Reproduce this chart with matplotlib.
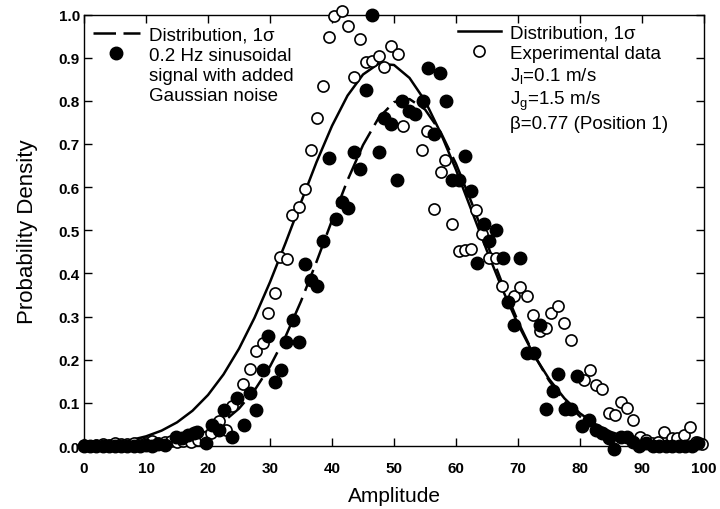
import matplotlib
matplotlib.use("Agg")
import matplotlib.pyplot as plt
from matplotlib.lines import Line2D
import numpy as np

plt.rcParams['font.family'] = ['Liberation Sans', 'DejaVu Sans']
plt.rcParams['mathtext.fontset'] = 'custom'
plt.rcParams['mathtext.rm'] = 'Liberation Sans'
plt.rcParams['mathtext.it'] = 'Liberation Sans:italic'

curve_x = np.linspace(0, 100, 41)
exp_fit = [0.0026, 0.0047, 0.0081, 0.0137, 0.0224, 0.0356, 0.0548, 0.0818, 0.1183, 0.166,
           0.2256, 0.2973, 0.380, 0.4705, 0.565, 0.658, 0.742, 0.812, 0.861, 0.886,
           0.883, 0.853, 0.800, 0.726, 0.640, 0.546, 0.452, 0.3626, 0.282, 0.2127,
           0.1554, 0.1102, 0.0757, 0.0504, 0.0326, 0.0204, 0.0124, 0.0073, 0.0042, 0.0023, 0.0012]
sine_fit = [0.0002, 0.0004, 0.0009, 0.0018, 0.0036, 0.0067, 0.0121, 0.0210, 0.0350, 0.0563,
            0.0869, 0.1291, 0.1845, 0.2537, 0.3356, 0.427, 0.523, 0.616, 0.6975, 0.760,
            0.797, 0.804, 0.780, 0.728, 0.654, 0.5645, 0.469, 0.375, 0.2884, 0.2133,
            0.1518, 0.1039, 0.0684, 0.0433, 0.0264, 0.0155, 0.0087, 0.0047, 0.0025, 0.0012, 0.0006]

# 0.2 Hz sinusoidal signal with gaussian noise (filled circles)
sine_x = [0, 1, 2, 3, 4, 5, 6, 7, 8, 9, 10, 11, 12, 13,
          14.8, 15.8, 16.8, 17.7, 18.3, 19.6, 20.7, 21.8, 22.6, 23.8,
          24.7, 25.8, 26.7, 27.7, 28.8, 29.7, 30.8, 31.7, 32.6, 33.7,
          34.7, 35.6, 36.6, 37.6, 38.5, 39.5, 40.6, 41.6, 42.6, 43.5,
          44.5, 45.4, 46.5, 47.6, 48.4, 49.5, 50.5, 51.3, 52.4, 53.4,
          54.6, 55.5, 56.4, 57.4, 58.4, 59.4, 60.5, 61.5, 62.4, 63.4,
          64.5, 65.4, 66.4, 67.5, 68.4, 69.4, 70.4, 71.5, 72.6, 73.5,
          74.5, 75.6, 76.5, 77.6, 78.6, 79.5, 80.4, 81.5, 82.5, 83.6,
          84.6, 85.5, 86.6, 87.6, 88.5, 89.5, 90.6, 91.7, 92.7, 93.8,
          94.9, 96, 97, 98.1, 99.1]
sine_y = [0, 0, 0, 0, 0, 0, 0, 0, 0, 0, 0.003, 0, 0.004, 0.002,
          0.022, 0.018, 0.026, 0.030, 0.033, 0.006, 0.049, 0.037, 0.084, 0.020,
          0.111, 0.048, 0.124, 0.084, 0.177, 0.254, 0.148, 0.177, 0.241, 0.293,
          0.241, 0.422, 0.385, 0.371, 0.474, 0.668, 0.527, 0.566, 0.552, 0.682,
          0.642, 0.824, 1.0, 0.682, 0.760, 0.746, 0.616, 0.799, 0.776, 0.769,
          0.799, 0.876, 0.723, 0.865, 0.799, 0.616, 0.616, 0.672, 0.590, 0.424,
          0.515, 0.476, 0.500, 0.436, 0.333, 0.280, 0.436, 0.216, 0.216, 0.280,
          0.086, 0.127, 0.166, 0.086, 0.086, 0.162, 0.047, 0.061, 0.036, 0.030,
          0.018, -0.006, 0.022, 0.022, 0.010, 0, 0.006, 0, 0, 0,
          0, 0, 0, 0, 0.008]

# experimental data (open circles)
exp_x = [0, 1, 2, 3, 4, 5, 6, 7, 8, 9, 10, 11, 12, 13, 14, 15, 16,
         17.2, 18.4, 19.5, 20.5, 21.8, 22.9, 23.9,
         25.7, 26.7, 27.8, 28.8, 29.7, 30.8, 31.6, 32.7, 33.6, 34.6,
         35.6, 36.6, 37.6, 38.5, 39.5, 40.3, 41.6, 42.5, 43.5, 44.5,
         45.4, 46.5, 47.6, 48.4, 49.5, 50.6, 51.5, 54.5, 55.4, 56.5,
         57.5, 58.3, 59.4, 60.5, 61.5, 62.4, 63.3, 64.2, 65.4,
         66.4, 67.4, 69.4, 70.4, 71.4, 72.4, 73.5, 74.5, 75.4, 76.5,
         77.4, 78.5, 80.6, 81.6, 82.5, 83.6, 84.6, 85.6, 86.6, 87.6,
         88.5, 89.6, 90.6, 91.6, 92.6, 93.6, 94.9, 95.7, 96.8, 97.7,
         98.7, 99.6]
exp_y = [0.002, 0, 0.003, 0.004, 0.003, 0.008, 0.005, 0.004, 0.006, 0.004, 0.008, 0.012,
         0.006, 0.010, 0.012, 0.010, 0.012,
         0.010, 0.013, 0.020, 0.030, 0.057, 0.036, 0.092,
         0.144, 0.179, 0.221, 0.239, 0.309, 0.354, 0.437, 0.434, 0.535, 0.554,
         0.595, 0.686, 0.761, 0.835, 0.948, 0.997, 1.007, 0.974, 0.855, 0.943,
         0.890, 0.892, 0.904, 0.878, 0.927, 0.909, 0.741, 0.686, 0.730, 0.550,
         0.636, 0.663, 0.515, 0.451, 0.455, 0.457, 0.546, 0.492, 0.436,
         0.436, 0.371, 0.348, 0.369, 0.347, 0.304, 0.266, 0.274, 0.308, 0.325,
         0.286, 0.246, 0.152, 0.176, 0.141, 0.131, 0.076, 0.072, 0.103, 0.088,
         0.061, 0.020, 0.014, 0.008, 0.010, 0.033, 0.018, 0.018, 0.026, 0.045,
         0.010, 0.005]

fig = plt.figure(figsize=(7.2, 5.1), dpi=100)
ax = fig.add_axes([0.1167, 0.1235, 0.8611, 0.8461])

# curves
ax.plot(curve_x, exp_fit, color='k', lw=1.8, zorder=2)
ax.plot(curve_x, sine_fit, color='k', lw=1.8, dashes=(9, 3), zorder=2)

# data points
ax.plot(exp_x, exp_y, 'o', ms=8, mfc='white', mec='k', mew=1.2, clip_on=False, zorder=3)
ax.plot(sine_x, sine_y, 'o', ms=9, color='k', clip_on=False, zorder=4)

ax.set_xlim(0, 100)
ax.set_ylim(0, 1.0)
ax.set_xticks(range(0, 101, 10))
ax.set_yticks(np.arange(0, 1.01, 0.1))
ax.set_yticklabels(['%.1f' % v for v in np.arange(0, 1.01, 0.1)])
ax.tick_params(direction='in', top=True, right=True, length=6, width=1)
ax.tick_params(axis='x', pad=11)
ax.tick_params(axis='y', pad=3)
for lab in ax.get_xticklabels() + ax.get_yticklabels():
    lab.set_fontsize(11)
    lab.set_fontweight('bold')
for s in ax.spines.values():
    s.set_linewidth(1)

ax.set_xlabel('Amplitude', fontsize=15, labelpad=8)
ax.set_ylabel('Probability Density', fontsize=16, labelpad=15)

# legends (two blocks, no frame)
blank = Line2D([], [], ls='none')
h1 = [Line2D([], [], color='k', lw=1.8, dashes=(9, 3)),
      Line2D([], [], ls='none', marker='o', ms=9, color='k'),
      blank, blank]
leg1 = ax.legend(h1, ['Distribution, 1σ', '0.2 Hz sinusoidal', 'signal with added', 'Gaussian noise'],
                 loc='upper left', bbox_to_anchor=(0.0145, 0.972), frameon=False, fontsize=13.5,
                 handlelength=2.5, handletextpad=0.5, labelspacing=0.16,
                 borderpad=0, borderaxespad=0)
ax.add_artist(leg1)

h2 = [Line2D([], [], color='k', lw=1.8),
      Line2D([], [], ls='none', marker='o', ms=8, mfc='white', mec='k', mew=1.2),
      blank, blank, blank]
ax.legend(h2, ['Distribution, 1σ', 'Experimental data', r'J$_{\mathrm{l}}$=0.1 m/s',
               r'J$_{\mathrm{g}}$=1.5 m/s', 'β=0.77 (Position 1)'],
          loc='upper left', bbox_to_anchor=(0.603, 0.978), frameon=False, fontsize=13.5,
          handlelength=2.3, handletextpad=0.5, labelspacing=0.18,
          borderpad=0, borderaxespad=0)

plt.savefig('out.png', dpi=100)
